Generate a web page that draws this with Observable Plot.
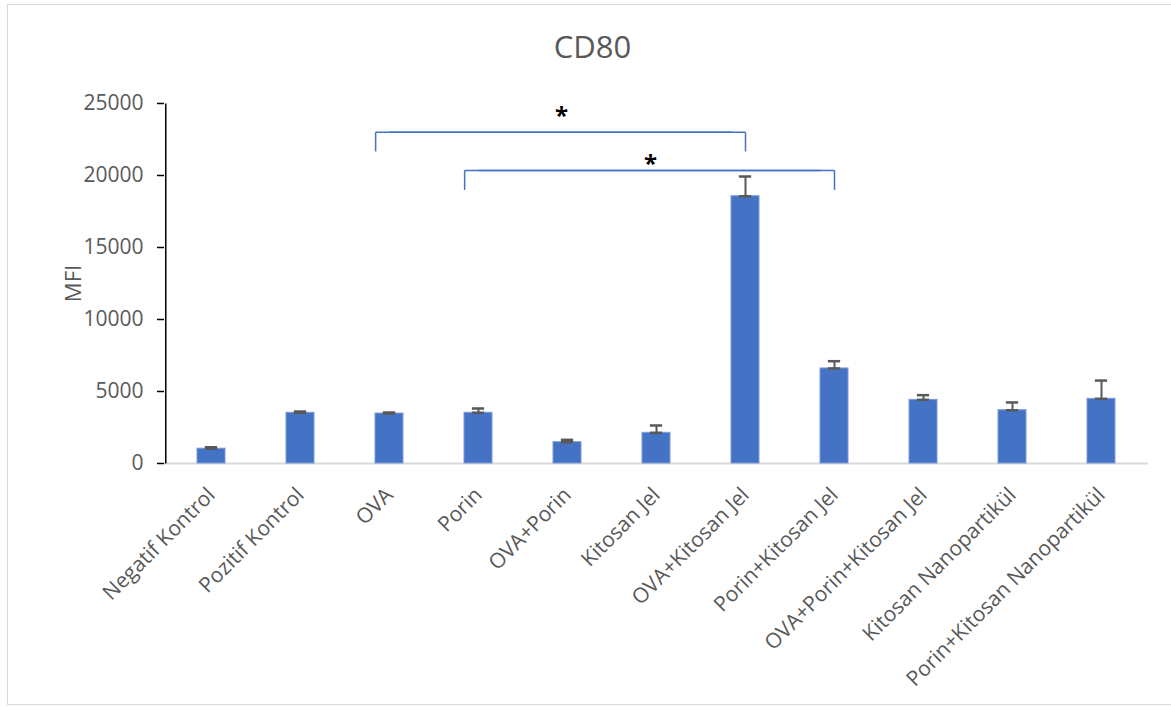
<!DOCTYPE html>
<html>
<head>
<meta charset="utf-8">
<script src="https://cdn.jsdelivr.net/npm/d3@7"></script>
<script src="https://cdn.jsdelivr.net/npm/@observablehq/plot@0.6"></script>
<style>
  html, body { margin: 0; padding: 0; background: #fff; overflow: hidden; width: 1171px; height: 707px; }
  #wrap { position: relative; width: 1171px; height: 707px; }
  #border { position: absolute; left: 7px; top: 4px; width: 1200px; height: 701px; border: 1px solid #d9d9d9; box-sizing: border-box; }
  #chart { position: absolute; left: 0; top: 0; }
</style>
</head>
<body>
<div id="wrap"><div id="border"></div><div id="chart"></div></div>
<script>
const categories = ["Negatif Kontrol", "Pozitif Kontrol", "OVA", "Porin", "OVA+Porin", "Kitosan Jel", "OVA+Kitosan Jel", "Porin+Kitosan Jel", "OVA+Porin+Kitosan Jel", "Kitosan Nanopartikül", "Porin+Kitosan Nanopartikül"];
const values = [1030, 3520, 3470, 3520, 1480, 2130, 18560, 6600, 4420, 3700, 4490];
const errors = [100, 90, 70, 300, 165, 510, 1370, 505, 325, 540, 1270];
const yTicks = [0, 5000, 10000, 15000, 20000, 25000];

const bracketFrom = ["OVA", "Porin"];
const bracketTo = ["OVA+Kitosan Jel", "Porin+Kitosan Jel"];
const bracketTop = [23000, 20350];
const bracketBottom = [21670, 19000];
const starY = [24330, 20970];
const starText = ["*", "*"];

const data = categories.map((c, i) => ({cat: c, value: values[i], err: errors[i]}));
const brackets = bracketFrom.map((f, i) => ({from: f, to: bracketTo[i], top: bracketTop[i], bottom: bracketBottom[i], star: starY[i], text: starText[i]}));

const W = 1171, H = 707;
const mL = 164, mR = 23, mT = 103, mB = 244;
const pInner = 0.69, pOuter = 0.345;

const xs = Plot.scale({x: {type: "band", domain: categories, range: [mL, W - mR], paddingInner: pInner, paddingOuter: pOuter}});
const bw = xs.bandwidth;
const center = c => xs.apply(c) + bw / 2;
const span = center(bracketTo[0]) - center(bracketFrom[0]);
const starDx = (span - bw / 2) / 2;
const axisDx = mL - 1 - center(categories[0]);
const titleDx = 592 - (mL + (W - mL - mR) / 2);

const textColor = "#595959";
const font = "'Open Sans', 'Noto Sans', sans-serif";

const plot = Plot.plot({
  width: W,
  height: H,
  marginLeft: mL,
  marginRight: mR,
  marginTop: mT,
  marginBottom: mB,
  style: {fontFamily: font, color: textColor, background: "transparent"},
  x: {type: "band", domain: categories, paddingInner: pInner, paddingOuter: pOuter, label: null},
  y: {domain: [0, 25000], label: null},
  marks: [
    Plot.axisY({ticks: yTicks, tickFormat: d3.format("d"), tickSize: 7, tickPadding: 14, fontSize: 21, fill: textColor, stroke: "#000", strokeWidth: 1.5, label: null}),
    Plot.axisX({tickSize: 0, tickRotate: -45, tickPadding: 28, fontSize: 21, fill: textColor, textAnchor: "end", label: null}),
    Plot.ruleY([0], {stroke: "#d9d9d9", strokeWidth: 2}),
    Plot.link([categories[0]], {x1: d => d, x2: d => d, y1: () => 0, y2: () => 25000, dx: axisDx, stroke: "#000", strokeWidth: 1.5}),
    Plot.barY(data, {x: "cat", y: "value", fill: "#4472C4", stroke: "#7a9bd8", strokeWidth: 1}),
    Plot.ruleX(data, {x: "cat", y1: "value", y2: d => d.value + d.err, stroke: "#595959", strokeWidth: 2}),
    Plot.tickY(data, {x: "cat", y: d => d.value + d.err, stroke: "#595959", strokeWidth: 2.5, insetLeft: (bw - 12) / 2, insetRight: (bw - 12) / 2}),
    Plot.tickY(data, {x: "cat", y: "value", stroke: "#595959", strokeWidth: 2.5, insetLeft: (bw - 12) / 2, insetRight: (bw - 12) / 2}),
    Plot.link(brackets, {x1: "from", x2: "from", y1: "bottom", y2: "top", dx: -bw / 2, stroke: "#4472C4", strokeWidth: 1.5}),
    Plot.link(brackets, {x1: "from", x2: "to", y1: "top", y2: "top", dx: -bw / 2, stroke: "#4472C4", strokeWidth: 1.5}),
    Plot.link(brackets, {x1: "from", x2: "to", y1: "top", y2: "top", stroke: "#4472C4", strokeWidth: 1.5}),
    Plot.link(brackets, {x1: "to", x2: "to", y1: "bottom", y2: "top", stroke: "#4472C4", strokeWidth: 1.5}),
    Plot.text(brackets, {x: "from", y: "star", text: "text", dx: starDx, dy: 3, fontSize: 24, fontWeight: "bold", fill: "#000"}),
    Plot.text(["CD80"], {frameAnchor: "top", dx: titleDx, dy: -55, text: d => d, fontSize: 31, fill: textColor, lineAnchor: "middle", textAnchor: "middle"}),
    Plot.text(["MFI"], {frameAnchor: "left", dx: -91, text: d => d, rotate: -90, fontSize: 22, fill: textColor, lineAnchor: "middle", textAnchor: "middle"})
  ]
});
document.getElementById("chart").appendChild(plot);
</script>
</body>
</html>
